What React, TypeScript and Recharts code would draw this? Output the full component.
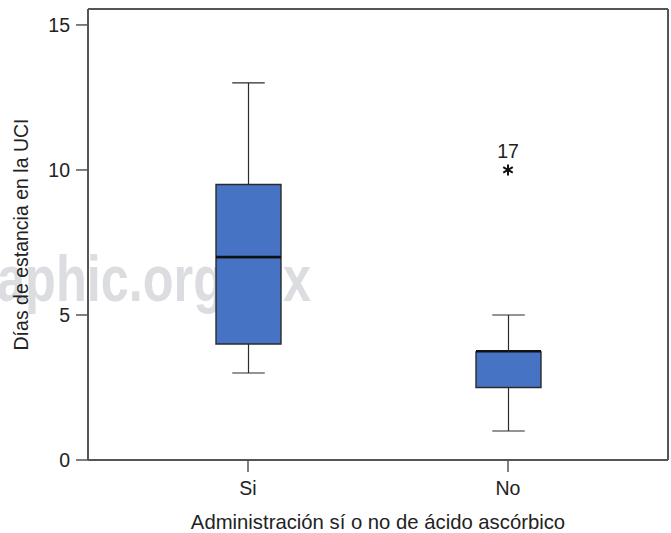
import { Bar, ComposedChart, Label, Line, XAxis, YAxis } from "recharts";

const groups = ["Si", "No"];
const mins = [3, 1];
const q1s = [4, 2.5];
const medians = [7.0, 3.75];
const q3s = [9.5, 3.75];
const maxs = [13, 5];
const outliers: (number | null)[] = [null, 10];
const outlierIds: (string | null)[] = [null, "17"];
const yTicks = [0, 5, 10, 15];

const rows = groups.map((g, i) => ({
  group: g,
  base: mins[i],
  lowWhisker: q1s[i] - mins[i],
  lowBox: medians[i] - q1s[i],
  highBox: q3s[i] - medians[i],
  highWhisker: maxs[i] - q3s[i],
  outlier: outliers[i],
  outlierId: outlierIds[i],
}));

const INK = "#2b2b2b";
const BLUE = "#4673c4";
const AXIS = "#555555";
const FONT = "'Liberation Sans', Arial, sans-serif";
const FS = 19.5;

function LowWhisker(p: any) {
  const { x, y, width, height } = p;
  const cx = x + width / 2;
  return (
    <g>
      <line x1={cx} x2={cx} y1={y} y2={y + height} stroke={INK} strokeWidth={1.2} />
      <line x1={cx - width / 4} x2={cx + width / 4} y1={y + height} y2={y + height} stroke={INK} strokeWidth={1.2} />
    </g>
  );
}

function HighWhisker(p: any) {
  const { x, y, width, height } = p;
  const cx = x + width / 2;
  return (
    <g>
      <line x1={cx} x2={cx} y1={y} y2={y + height} stroke={INK} strokeWidth={1.2} />
      <line x1={cx - width / 4} x2={cx + width / 4} y1={y} y2={y} stroke={INK} strokeWidth={1.2} />
    </g>
  );
}

// lower half of the box, median drawn on its top edge
function LowBox(p: any) {
  const { x, y, width, height } = p;
  return (
    <g>
      <rect x={x} y={y} width={width} height={height} fill={BLUE} />
      <path
        d={`M${x},${y} L${x},${y + height} L${x + width},${y + height} L${x + width},${y}`}
        fill="none"
        stroke={INK}
        strokeWidth={1.4}
      />
      <line x1={x} x2={x + width} y1={y} y2={y} stroke="#111" strokeWidth={2.6} />
    </g>
  );
}

// upper half; repaints the median so the fill does not hide it
function HighBox(p: any) {
  const { x, y, width, height } = p;
  if (!height) return <g />;
  return (
    <g>
      <rect x={x} y={y} width={width} height={height} fill={BLUE} />
      <path
        d={`M${x},${y + height} L${x},${y} L${x + width},${y} L${x + width},${y + height}`}
        fill="none"
        stroke={INK}
        strokeWidth={1.4}
      />
      <line x1={x} x2={x + width} y1={y + height} y2={y + height} stroke="#111" strokeWidth={2.6} />
    </g>
  );
}

function OutlierDot(p: any) {
  const { cx, cy, payload, index } = p;
  if (payload == null || payload.outlier == null || cy == null) return <g key={`o-${index}`} />;
  const r = 5.5;
  const a = r * Math.cos(Math.PI / 6);
  const b = r * Math.sin(Math.PI / 6);
  return (
    <g key={`o-${index}`}>
      <path
        d={`M${cx},${cy - r} L${cx},${cy + r} M${cx - a},${cy - b} L${cx + a},${cy + b} M${cx - a},${cy + b} L${cx + a},${cy - b}`}
        stroke="#111"
        strokeWidth={2}
      />
      <text x={cx} y={cy - 12} textAnchor="middle" fontSize={FS} fontFamily={FONT} fill="#222">
        {payload.outlierId}
      </text>
    </g>
  );
}

export default function App() {
  return (
    <div style={{ position: "absolute", left: 0, top: 0, width: 671, height: 533, background: "#fff" }}>
      <svg width={671} height={533} style={{ position: "absolute", left: 0, top: 0 }}>
        <text
          x={-3}
          y={301}
          fontSize={64}
          fontWeight="bold"
          fontFamily={FONT}
          fill="#dcdde1"
          textLength={314}
          lengthAdjust="spacingAndGlyphs"
        >
          aphic.org.mx
        </text>
      </svg>
      <div style={{ position: "relative" }}>
        <ComposedChart width={671} height={533} data={rows} margin={{ top: 8, right: 2, left: 0, bottom: 0 }}>
          <XAxis
            dataKey="group"
            height={73}
            padding={{ left: 30, right: 30 }}
            axisLine={{ stroke: AXIS, strokeWidth: 2 }}
            tickLine={{ stroke: AXIS, strokeWidth: 1.5 }}
            tickSize={12}
            tickMargin={9}
            tick={{ fill: "#222", fontSize: FS, fontFamily: FONT }}
          >
            <Label
              value="Administración sí o no de ácido ascórbico"
              position="insideBottom"
              offset={4}
              fill="#222"
              fontSize={20.3}
              fontFamily={FONT}
            />
          </XAxis>
          <XAxis
            xAxisId="top"
            dataKey="group"
            orientation="top"
            height={1}
            padding={{ left: 30, right: 30 }}
            tick={false}
            tickLine={false}
            axisLine={{ stroke: AXIS, strokeWidth: 2 }}
          />
          <YAxis
            width={88}
            domain={[0, 15.55]}
            ticks={yTicks}
            axisLine={{ stroke: AXIS, strokeWidth: 2 }}
            tickLine={{ stroke: AXIS, strokeWidth: 1.5 }}
            tickSize={12}
            tickMargin={6}
            tick={{ fill: "#222", fontSize: FS, fontFamily: FONT }}
          >
            <Label
              content={(props: any) => {
                const vb = props.viewBox || { x: 0, y: 9, width: 88, height: 451 };
                const x = vb.x + 21;
                const y = vb.y + vb.height / 2;
                return (
                  <text
                    x={x}
                    y={y}
                    transform={`rotate(-90 ${x} ${y})`}
                    textAnchor="middle"
                    dominantBaseline="central"
                    fontSize={FS}
                    fontFamily={FONT}
                    fill="#222"
                  >
                    Días de estancia en la UCI
                  </text>
                );
              }}
            />
          </YAxis>
          <YAxis
            yAxisId="right"
            orientation="right"
            width={1}
            domain={[0, 15.55]}
            tick={false}
            tickLine={false}
            axisLine={{ stroke: AXIS, strokeWidth: 2 }}
          />
          <Bar dataKey="base" stackId="box" fill="transparent" barSize={65} isAnimationActive={false} />
          <Bar dataKey="lowWhisker" stackId="box" shape={LowWhisker} barSize={65} isAnimationActive={false} />
          <Bar dataKey="lowBox" stackId="box" shape={LowBox} barSize={65} isAnimationActive={false} />
          <Bar dataKey="highBox" stackId="box" shape={HighBox} barSize={65} isAnimationActive={false} />
          <Bar dataKey="highWhisker" stackId="box" shape={HighWhisker} barSize={65} isAnimationActive={false} />
          <Line
            dataKey="outlier"
            xAxisId="top"
            yAxisId="right"
            stroke="none"
            dot={OutlierDot}
            activeDot={false}
            isAnimationActive={false}
          />
        </ComposedChart>
      </div>
    </div>
  );
}
